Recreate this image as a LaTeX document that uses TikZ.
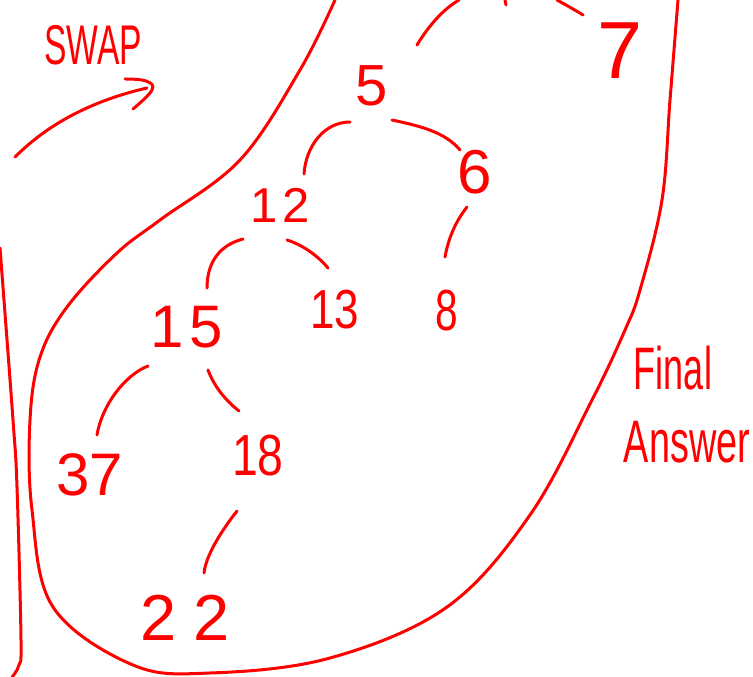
\documentclass[tikz,border=0pt]{standalone}
\usepackage{fontspec}
\setmainfont{Liberation Sans}
\definecolor{ink}{RGB}{255,0,0}
\begin{document}
\begin{tikzpicture}[x=1pt,y=-1pt,
  pen/.style={draw=ink,line width=3pt,line cap=round,line join=round},
  lbl/.style={text=ink,inner sep=0pt,font=\fontsize{#1}{#1}\selectfont},
  lbl/.default=58]
\useasboundingbox (0,0) rectangle (753,677);
% labels
\node[lbl=56] (swap) at (93,45) {\scalebox{0.6}[1]{SWAP}};
\node[lbl=81] (n7) at (620,51) {7};
\node[lbl=58] (n5) at (372,86) {5};
\node[lbl=62] (n6) at (475,172) {6};
\node[lbl=49] (n12) at (280,205) {1\hspace{0.1em}2};
\node[lbl=55] (n13) at (335,310) {\scalebox{0.8}[1]{13}};
\node[lbl=58] (n8) at (447,311) {\scalebox{0.7}[1]{8}};
\node[lbl=60] (n15) at (187,327) {1\hspace{0.1em}5};
\node[lbl=60] (n37) at (90,475) {37};
\node[lbl=58] (n18) at (258,456) {\scalebox{0.8}[1]{18}};
\node[lbl=65] (n22) at (185,618) {2\hspace{0.25em}2};
\node[lbl=60] (fin) at (673,368) {\scalebox{0.6}[1]{Final}};
\node[lbl=60] (ans) at (687,442) {\scalebox{0.63}[1]{Answer}};
% edge end points
\coordinate (ta1) at (417,45);  \coordinate (ta2) at (459,0);
\coordinate (tb1) at (557,0);   \coordinate (tb2) at (583,15);
\coordinate (tc1) at (505,0);   \coordinate (tc2) at (506,5);
\coordinate (a1) at (350,122);  \coordinate (a2) at (304,174);
\coordinate (b1) at (392,120);  \coordinate (b2) at (460,150);
\coordinate (c1) at (467,207);  \coordinate (c2) at (445,257);
\coordinate (d1) at (243,239);  \coordinate (d2) at (207,288);
\coordinate (e1) at (287,240);  \coordinate (e2) at (328,268);
\coordinate (f1) at (148,366);  \coordinate (f2) at (97,435);
\coordinate (g1) at (208,370);  \coordinate (g2) at (239,411);
\coordinate (h1) at (237,511);  \coordinate (h2) at (204,573);
\coordinate (s1) at (15,157);   \coordinate (s2) at (147,88);
% edges
\draw[pen] (ta1) .. controls (428,27) and (442,10) .. (ta2);
\draw[pen] (tb1) .. controls (566,5) and (575,10) .. (tb2);
\draw[pen] (tc1) -- (tc2);
\draw[pen] (a1) .. controls (325,122) and (306,145) .. (a2);
\draw[pen] (b1) .. controls (420,126) and (445,132) .. (b2);
\draw[pen] (c1) .. controls (455,222) and (448,240) .. (c2);
\draw[pen] (d1) .. controls (220,245) and (207,262) .. (d2);
\draw[pen] (e1) .. controls (303,245) and (318,256) .. (e2);
\draw[pen] (f1) .. controls (125,375) and (102,405) .. (f2);
\draw[pen] (g1) .. controls (214,386) and (225,400) .. (g2);
\draw[pen] (h1) .. controls (222,530) and (206,555) .. (h2);
% swap arrow
\draw[pen] (s1) .. controls (50,122) and (95,100) .. (s2);
\draw[pen] plot[smooth,tension=0.7] coordinates {(125,79) (146,81) (152,90) (133,109)};
% enclosing loop
\draw[pen] plot[smooth,tension=0.6] coordinates {(335,0) (300,70) (240,160) (160,220) (117,253) (67,307) (40,357) (30,420) (32,510) (53,607) (133,665) (210,673) (330,658) (447,607) (530,515) (592,400) (625,330) (640,290) (662,200) (670,100) (678,0)};
% left line
\draw[pen] plot[smooth,tension=0.6] coordinates {(0,248) (13,420) (17,487) (21,640) (19,665) (12,677)};
\end{tikzpicture}
\end{document}
